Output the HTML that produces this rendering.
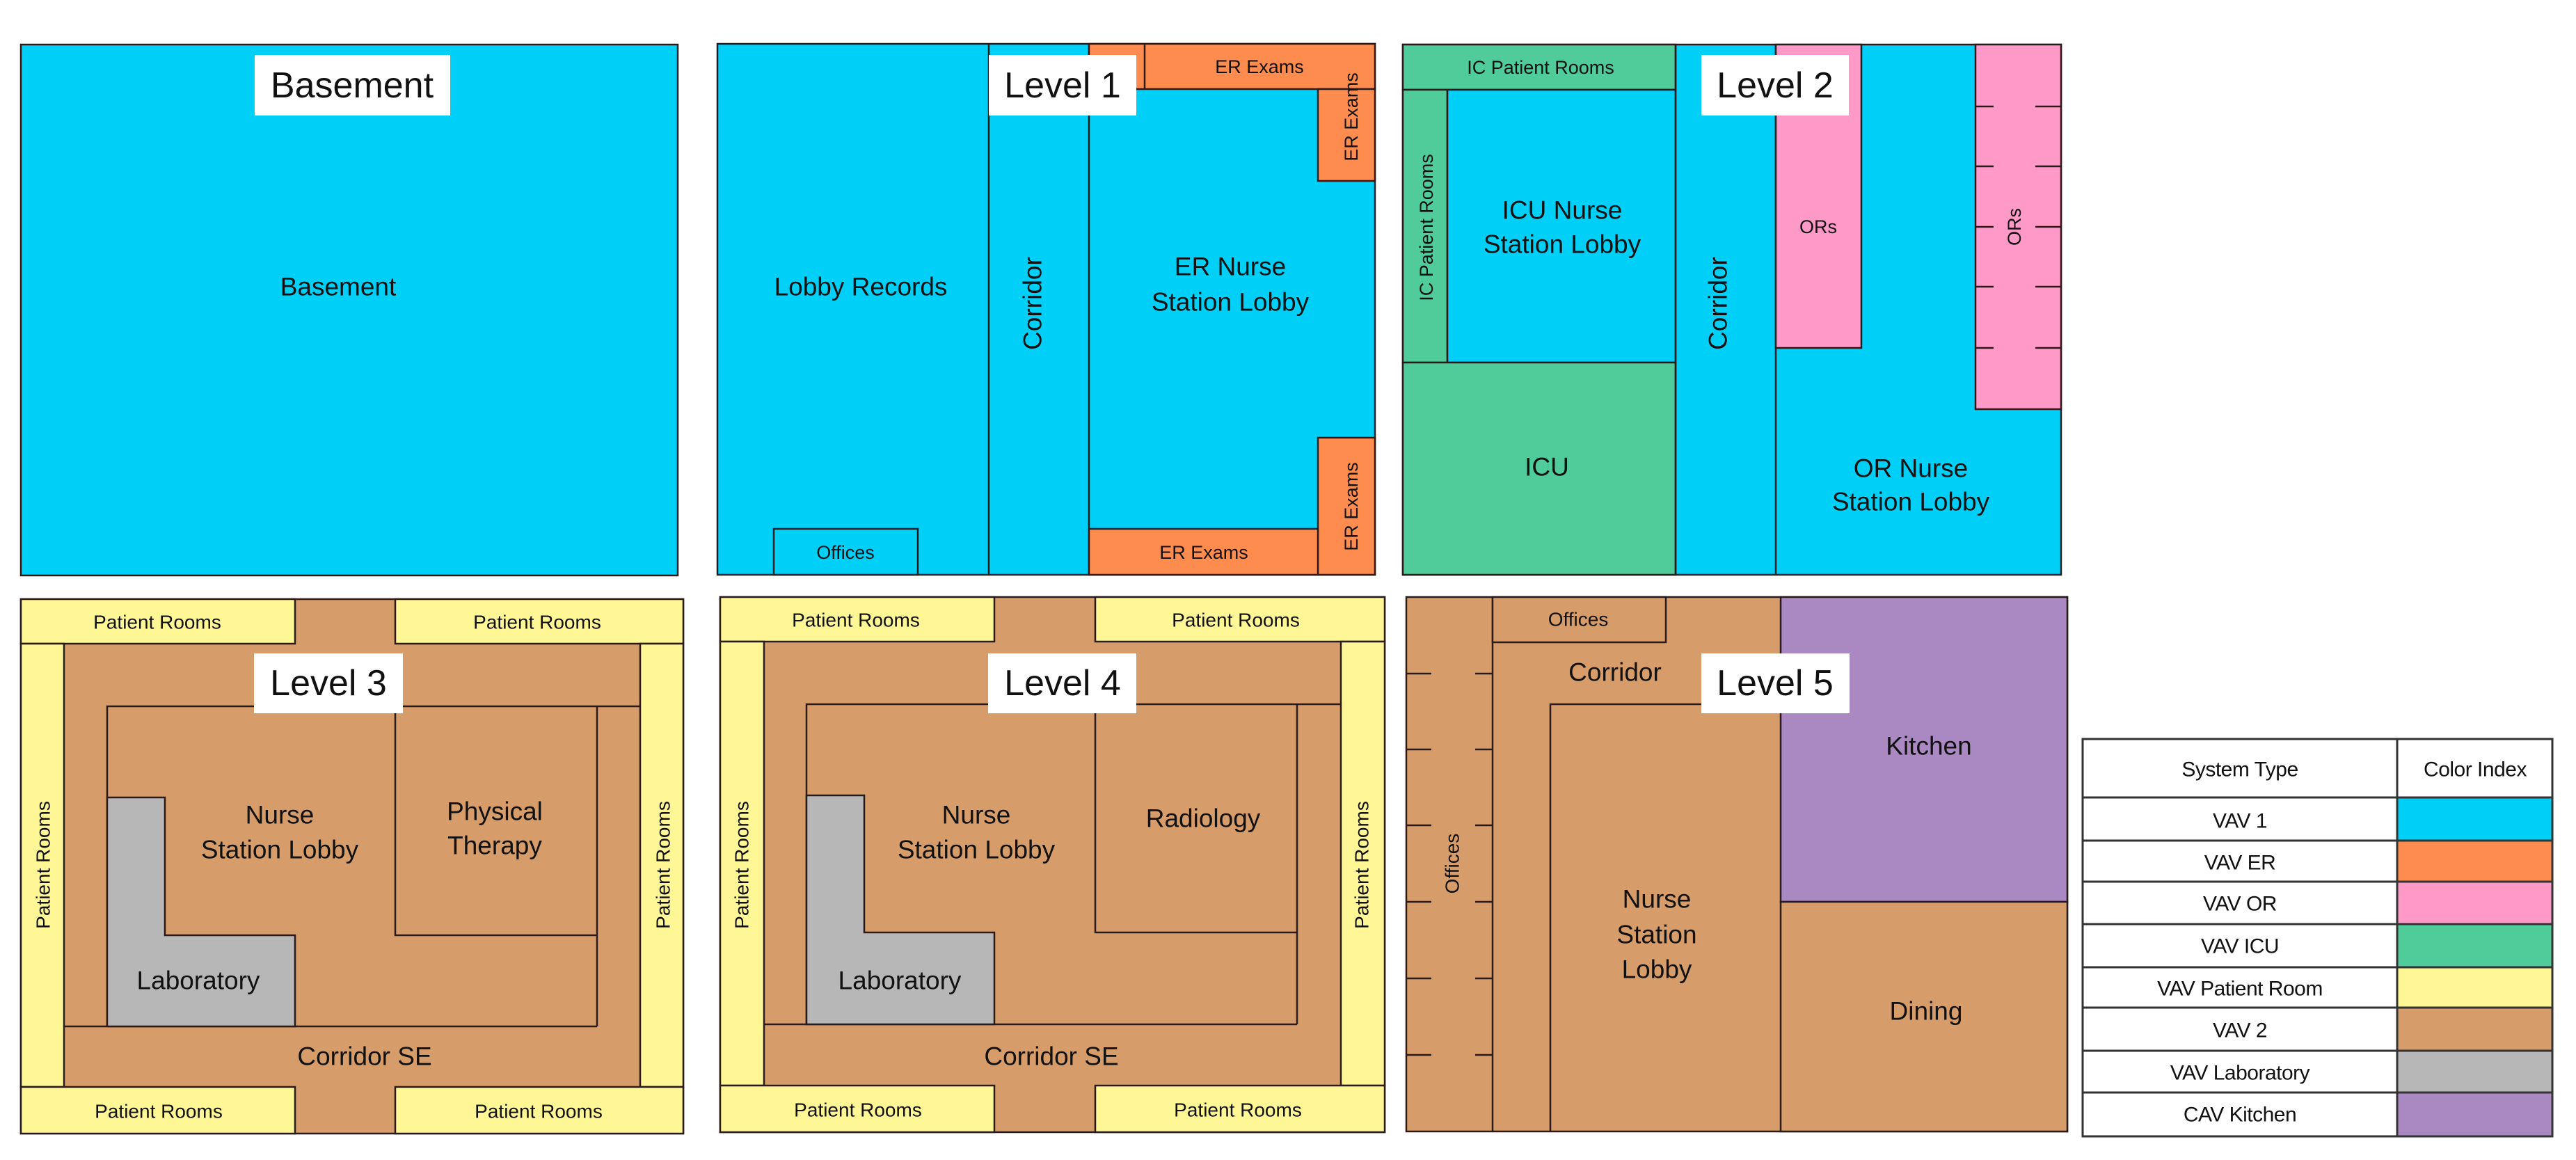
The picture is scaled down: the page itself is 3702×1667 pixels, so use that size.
<!DOCTYPE html>
<html><head><meta charset="utf-8"><style>
html,body{margin:0;padding:0;background:#fff;}
svg{display:block;}
text{font-family:"Liberation Sans",sans-serif;fill:#111;}
.r{stroke:#2a1a1a;stroke-width:2.5;}
.l{stroke:#2a1a1a;stroke-width:2.5;fill:none;}
.t{text-anchor:middle;dominant-baseline:central;}
</style></head><body>
<svg width="3702" height="1667" viewBox="0 0 3702 1667" xmlns="http://www.w3.org/2000/svg">
<!-- BASEMENT -->
<rect class="r" x="30" y="64" width="944" height="763" fill="#00CFF7"/>
<rect x="366" y="79" width="281" height="87" fill="#fff"/>
<text class="t" x="506" y="123" font-size="52">Basement</text>
<text class="t" x="486" y="412" font-size="37">Basement</text>

<!-- LEVEL 1 -->
<rect class="r" x="1031" y="63" width="945" height="763" fill="#00CFF7"/>
<line class="l" x1="1421" y1="63" x2="1421" y2="826"/>
<line class="l" x1="1565" y1="63" x2="1565" y2="826"/>
<rect class="r" x="1565" y="63" width="411" height="65" fill="#FF8C4F"/>
<line class="l" x1="1645" y1="63" x2="1645" y2="128"/>
<rect class="r" x="1894" y="128" width="82" height="132" fill="#FF8C4F"/>
<rect class="r" x="1894" y="629" width="82" height="197" fill="#FF8C4F"/>
<rect class="r" x="1565" y="760" width="329" height="66" fill="#FF8C4F"/>
<rect class="r" x="1112" y="760" width="207" height="66" fill="#00CFF7"/>
<rect x="1421" y="79" width="212" height="87" fill="#fff"/>
<text class="t" x="1527" y="123" font-size="52">Level 1</text>
<text class="t" x="1237" y="412" font-size="37">Lobby Records</text>
<text class="t" x="1768" y="383" font-size="37">ER Nurse</text>
<text class="t" x="1768" y="434" font-size="37">Station Lobby</text>
<text class="t" transform="translate(1484,436) rotate(-90)" font-size="37">Corridor</text>
<text class="t" x="1810" y="96" font-size="27">ER Exams</text>
<text class="t" transform="translate(1942,168) rotate(-90)" font-size="27">ER Exams</text>
<text class="t" transform="translate(1942,728) rotate(-90)" font-size="27">ER Exams</text>
<text class="t" x="1730" y="794" font-size="27">ER Exams</text>
<text class="t" x="1215" y="794" font-size="27">Offices</text>

<!-- LEVEL 2 -->
<rect class="r" x="2016" y="64" width="946" height="762" fill="#00CFF7"/>
<rect class="r" x="2016" y="64" width="392" height="65" fill="#50CB9A"/>
<rect class="r" x="2016" y="129" width="64" height="392" fill="#50CB9A"/>
<rect class="r" x="2080" y="129" width="328" height="392" fill="#00CFF7"/>
<rect class="r" x="2016" y="521" width="392" height="305" fill="#50CB9A"/>
<line class="l" x1="2408" y1="64" x2="2408" y2="826"/>
<line class="l" x1="2552" y1="64" x2="2552" y2="826"/>
<rect class="r" x="2552" y="64" width="123" height="436" fill="#FF99C8"/>
<rect class="r" x="2839" y="64" width="123" height="524" fill="#FF99C8"/>
<path class="l" d="M2839 153h26M2925 153h37M2839 239h26M2925 239h37M2839 326h26M2925 326h37M2839 412h26M2925 412h37M2839 500h26M2925 500h37"/>
<rect x="2445" y="79" width="212" height="87" fill="#fff"/>
<text class="t" x="2551" y="123" font-size="52">Level 2</text>
<text class="t" x="2214" y="97" font-size="27">IC Patient Rooms</text>
<text class="t" transform="translate(2050,327) rotate(-90)" font-size="27">IC Patient Rooms</text>
<text class="t" x="2245" y="302" font-size="37">ICU Nurse</text>
<text class="t" x="2245" y="351" font-size="37">Station Lobby</text>
<text class="t" x="2223" y="671" font-size="37">ICU</text>
<text class="t" transform="translate(2469,436) rotate(-90)" font-size="37">Corridor</text>
<text class="t" x="2613" y="326" font-size="27">ORs</text>
<text class="t" transform="translate(2895,326) rotate(-90)" font-size="27">ORs</text>
<text class="t" x="2746" y="673" font-size="37">OR Nurse</text>
<text class="t" x="2746" y="721" font-size="37">Station Lobby</text>

<!-- LEVEL 3 -->
<rect class="r" x="30" y="861" width="952" height="768" fill="#D69C69"/>
<rect class="r" x="30" y="861" width="394" height="64" fill="#FFF796"/>
<rect class="r" x="568" y="861" width="414" height="64" fill="#FFF796"/>
<rect class="r" x="30" y="925" width="62" height="637" fill="#FFF796"/>
<rect class="r" x="920" y="925" width="62" height="637" fill="#FFF796"/>
<rect class="r" x="30" y="1562" width="394" height="67" fill="#FFF796"/>
<rect class="r" x="568" y="1562" width="414" height="67" fill="#FFF796"/>
<path class="l" d="M154 1475V1015H920M858 1015V1475M92 1475H858M568 1015V1344H858"/>
<path class="r" d="M154 1146H237V1344H424V1475H154Z" fill="#B7B7B7"/>
<rect x="365" y="939" width="214" height="86" fill="#fff"/>
<text class="t" x="472" y="982" font-size="52">Level 3</text>
<text class="t" x="226" y="894" font-size="28">Patient Rooms</text>
<text class="t" x="772" y="894" font-size="28">Patient Rooms</text>
<text class="t" x="228" y="1597" font-size="28">Patient Rooms</text>
<text class="t" x="774" y="1597" font-size="28">Patient Rooms</text>
<text class="t" transform="translate(62,1243) rotate(-90)" font-size="28">Patient Rooms</text>
<text class="t" transform="translate(953,1243) rotate(-90)" font-size="28">Patient Rooms</text>
<text class="t" x="402" y="1171" font-size="37">Nurse</text>
<text class="t" x="402" y="1221" font-size="37">Station Lobby</text>
<text class="t" x="711" y="1166" font-size="37">Physical</text>
<text class="t" x="711" y="1215" font-size="37">Therapy</text>
<text class="t" x="285" y="1409" font-size="37">Laboratory</text>
<text class="t" x="524" y="1518" font-size="37">Corridor SE</text>

<!-- LEVEL 4 -->
<rect class="r" x="1035" y="858" width="955" height="769" fill="#D69C69"/>
<rect class="r" x="1035" y="858" width="394" height="64" fill="#FFF796"/>
<rect class="r" x="1574" y="858" width="416" height="64" fill="#FFF796"/>
<rect class="r" x="1035" y="922" width="63" height="638" fill="#FFF796"/>
<rect class="r" x="1927" y="922" width="63" height="638" fill="#FFF796"/>
<rect class="r" x="1035" y="1560" width="394" height="67" fill="#FFF796"/>
<rect class="r" x="1574" y="1560" width="416" height="67" fill="#FFF796"/>
<path class="l" d="M1159 1472V1012H1927M1864 1012V1472M1098 1472H1864M1574 1012V1340H1864"/>
<path class="r" d="M1159 1143H1242V1340H1429V1472H1159Z" fill="#B7B7B7"/>
<rect x="1420" y="939" width="213" height="86" fill="#fff"/>
<text class="t" x="1527" y="982" font-size="52">Level 4</text>
<text class="t" x="1230" y="891" font-size="28">Patient Rooms</text>
<text class="t" x="1776" y="891" font-size="28">Patient Rooms</text>
<text class="t" x="1233" y="1595" font-size="28">Patient Rooms</text>
<text class="t" x="1779" y="1595" font-size="28">Patient Rooms</text>
<text class="t" transform="translate(1066,1243) rotate(-90)" font-size="28">Patient Rooms</text>
<text class="t" transform="translate(1957,1243) rotate(-90)" font-size="28">Patient Rooms</text>
<text class="t" x="1403" y="1171" font-size="37">Nurse</text>
<text class="t" x="1403" y="1221" font-size="37">Station Lobby</text>
<text class="t" x="1729" y="1176" font-size="37">Radiology</text>
<text class="t" x="1293" y="1409" font-size="37">Laboratory</text>
<text class="t" x="1511" y="1518" font-size="37">Corridor SE</text>

<!-- LEVEL 5 -->
<rect class="r" x="2021" y="858" width="950" height="768" fill="#D69C69"/>
<line class="l" x1="2145" y1="858" x2="2145" y2="1626"/>
<rect class="r" x="2145" y="858" width="249" height="65" fill="#D69C69"/>
<path class="l" d="M2228 1626V1012H2559"/>
<rect class="r" x="2559" y="858" width="412" height="438" fill="#AA88C2"/>
<rect class="r" x="2559" y="1296" width="412" height="330" fill="#D69C69"/>
<path class="l" d="M2021 968h36M2120 968h25M2021 1077h36M2120 1077h25M2021 1186h36M2120 1186h25M2021 1296h36M2120 1296h25M2021 1406h36M2120 1406h25M2021 1516h36M2120 1516h25"/>
<rect x="2445" y="939" width="213" height="86" fill="#fff"/>
<text class="t" x="2551" y="982" font-size="52">Level 5</text>
<text class="t" x="2268" y="890" font-size="28">Offices</text>
<text class="t" x="2321" y="966" font-size="37">Corridor</text>
<text class="t" transform="translate(2087,1241) rotate(-90)" font-size="28">Offices</text>
<text class="t" x="2772" y="1072" font-size="37">Kitchen</text>
<text class="t" x="2381" y="1292" font-size="37">Nurse</text>
<text class="t" x="2381" y="1343" font-size="37">Station</text>
<text class="t" x="2381" y="1393" font-size="37">Lobby</text>
<text class="t" x="2768" y="1453" font-size="37">Dining</text>

<!-- LEGEND -->
<g stroke="#333" stroke-width="3">
<rect x="2993" y="1062" width="675" height="571" fill="#fff"/>
<rect x="3445" y="1146" width="223" height="62" fill="#00CFF7"/>
<rect x="3445" y="1208" width="223" height="59" fill="#FF8C4F"/>
<rect x="3445" y="1267" width="223" height="61" fill="#FF99C8"/>
<rect x="3445" y="1328" width="223" height="62" fill="#50CB9A"/>
<rect x="3445" y="1390" width="223" height="58" fill="#FFF796"/>
<rect x="3445" y="1448" width="223" height="62" fill="#D69C69"/>
<rect x="3445" y="1510" width="223" height="60" fill="#B7B7B7"/>
<rect x="3445" y="1570" width="223" height="63" fill="#AA88C2"/>
<path fill="none" d="M3445 1062V1633M2993 1146H3668M2993 1208H3445M2993 1267H3445M2993 1328H3445M2993 1390H3445M2993 1448H3445M2993 1510H3445M2993 1570H3445"/>
</g>
<g font-size="30" style="letter-spacing:-0.5px">
<text class="t" x="3219" y="1106">System Type</text>
<text class="t" x="3557" y="1106">Color Index</text>
<text class="t" x="3219" y="1180">VAV 1</text>
<text class="t" x="3219" y="1240">VAV ER</text>
<text class="t" x="3219" y="1299">VAV OR</text>
<text class="t" x="3219" y="1360">VAV ICU</text>
<text class="t" x="3219" y="1421">VAV Patient Room</text>
<text class="t" x="3219" y="1481">VAV 2</text>
<text class="t" x="3219" y="1542">VAV Laboratory</text>
<text class="t" x="3219" y="1602">CAV Kitchen</text>
</g>
</svg>
</body></html>
